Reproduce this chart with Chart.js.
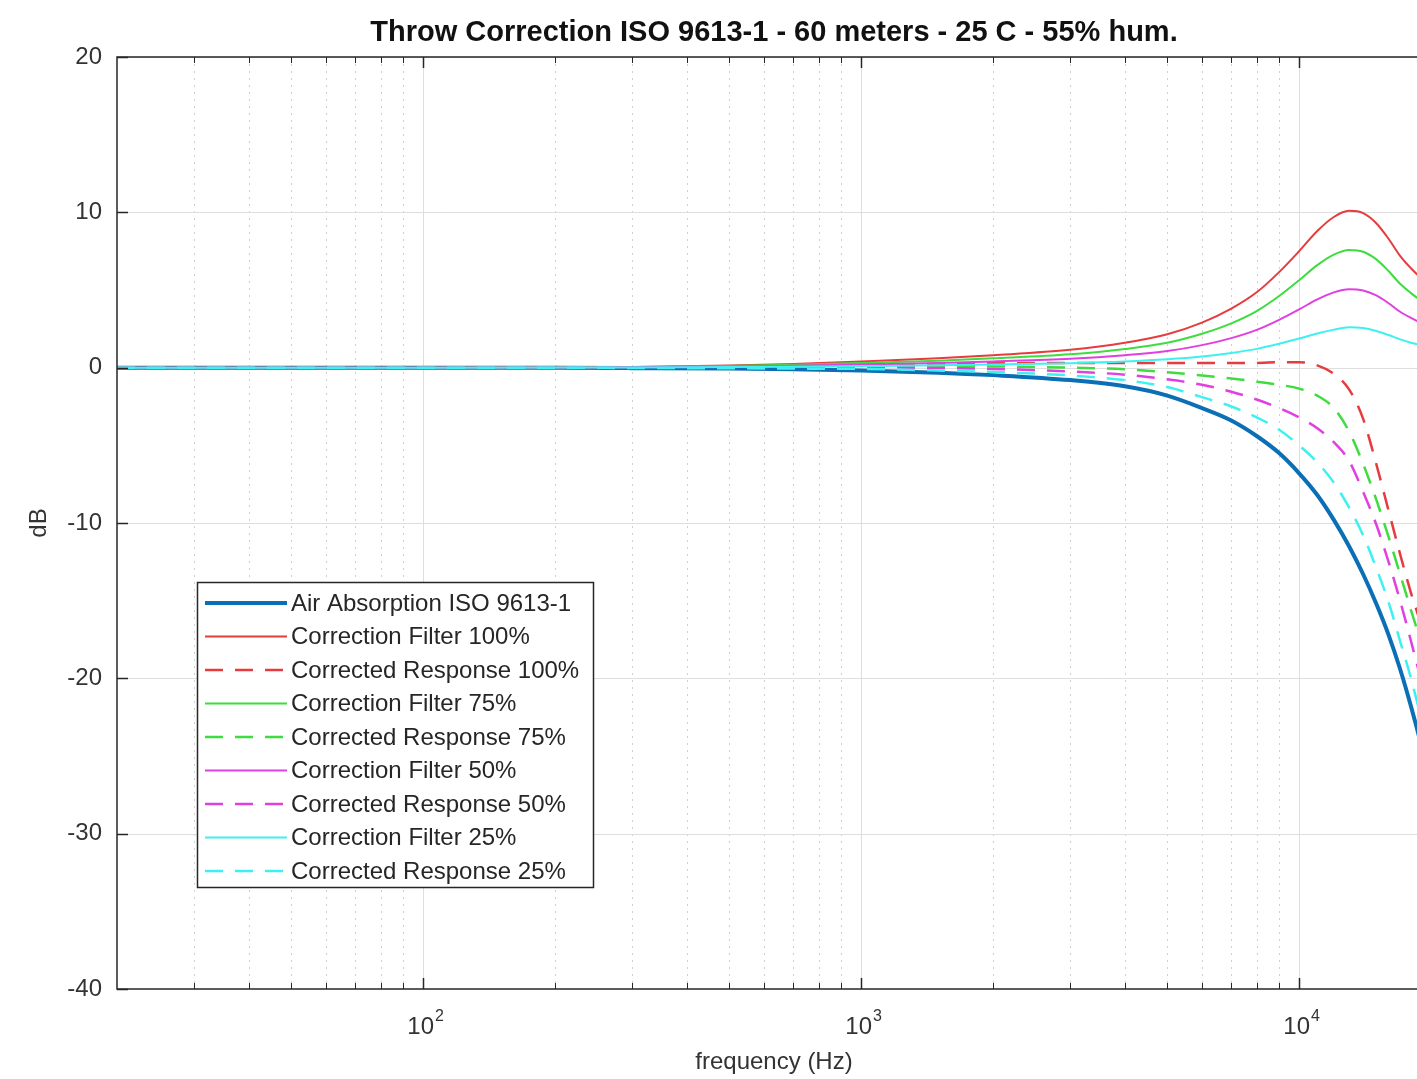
<!DOCTYPE html>
<html>
<head>
<meta charset="utf-8">
<title>Throw Correction ISO 9613-1</title>
<script src="https://cdn.jsdelivr.net/npm/chart.js@4/dist/chart.umd.min.js"></script>
<style>
  html, body { margin: 0; padding: 0; overflow: hidden; background: #fff; }
  canvas { display: block; }
</style>
</head>
<body>
<canvas id="chart" width="1460" height="1079"></canvas>
<script>
const FONT = "'Liberation Sans', Arial, Helvetica, sans-serif";

// Data (dB vs Hz)
const freqs = [20, 50, 100, 200, 300, 500, 700, 1000, 1500, 2000, 3000, 4000, 5000, 6000, 7000, 8000, 9000, 10000, 11000, 12000, 13000, 14000, 15000, 16000, 17000, 18000, 19000, 20000];
const airAbsorption = [0, 0, 0, -0.01, -0.03, -0.06, -0.1, -0.18, -0.32, -0.48, -0.8, -1.2, -1.8, -2.6, -3.4, -4.4, -5.5, -6.8, -8.2, -9.8, -11.5, -13.3, -15.2, -17.2, -19.4, -21.8, -24.3, -26.9];
const filter100 = [0, 0, 0, 0.02, 0.05, 0.14, 0.24, 0.4, 0.6, 0.8, 1.15, 1.6, 2.15, 2.9, 3.8, 4.85, 6.15, 7.5, 8.8, 9.7, 10.1, 9.95, 9.3, 8.3, 7.2, 6.4, 5.75, 5.2];
const response100 = [0, 0, 0, 0.01, 0.02, 0.08, 0.14, 0.2, 0.25, 0.28, 0.3, 0.3, 0.3, 0.3, 0.3, 0.3, 0.35, 0.35, 0.15, -0.4, -1.4, -3.3, -6.2, -9.2, -12.0, -14.5, -16.6, -19.2];
const filter75 = [0, 0, 0, 0.015, 0.04, 0.1, 0.18, 0.3, 0.45, 0.6, 0.86, 1.2, 1.6, 2.18, 2.85, 3.64, 4.61, 5.63, 6.6, 7.28, 7.58, 7.46, 6.97, 6.22, 5.4, 4.8, 4.31, 3.9];
const response75 = [0, 0, 0, 0, 0.01, 0.04, 0.07, 0.1, 0.1, 0.08, 0, -0.1, -0.3, -0.5, -0.7, -0.9, -1.1, -1.35, -1.8, -2.6, -4.1, -6.2, -8.5, -10.9, -13.3, -15.6, -17.8, -20.5];
const filter50 = [0, 0, 0, 0.01, 0.025, 0.07, 0.12, 0.2, 0.3, 0.4, 0.57, 0.8, 1.07, 1.45, 1.9, 2.43, 3.08, 3.75, 4.4, 4.85, 5.05, 4.97, 4.65, 4.15, 3.6, 3.2, 2.87, 2.6];
const response50 = [0, 0, 0, 0, -0.01, 0.01, 0.02, 0.02, -0.02, -0.08, -0.25, -0.45, -0.75, -1.1, -1.55, -2.05, -2.6, -3.2, -3.9, -4.8, -6.0, -8.0, -10.1, -12.5, -15.0, -17.6, -20.2, -23.0];
const filter25 = [0, 0, 0, 0.005, 0.012, 0.035, 0.06, 0.1, 0.15, 0.2, 0.29, 0.4, 0.54, 0.72, 0.95, 1.21, 1.54, 1.88, 2.2, 2.45, 2.6, 2.55, 2.36, 2.1, 1.82, 1.6, 1.44, 1.3];
const response25 = [0, 0, 0, 0, -0.02, -0.04, -0.06, -0.08, -0.18, -0.28, -0.5, -0.8, -1.25, -1.9, -2.5, -3.2, -4.0, -5.0, -6.1, -7.4, -9.0, -10.8, -12.9, -15.1, -17.6, -20.0, -22.6, -25.4];

const seriesLabels = [
  "Air Absorption ISO 9613-1",
  "Correction Filter 100%", "Corrected Response 100%",
  "Correction Filter 75%", "Corrected Response 75%",
  "Correction Filter 50%", "Corrected Response 50%",
  "Correction Filter 25%", "Corrected Response 25%"
];
const seriesValues = [airAbsorption, filter100, response100, filter75, response75, filter50, response50, filter25, response25];
const seriesColors = ["#0b6fb5", "#e63b3f", "#e63b3f", "#3fdc3f", "#3fdc3f", "#e040e0", "#e040e0", "#3ff0f0", "#3ff0f0"];

// Axis ticks
const yTicks = [20, 10, 0, -10, -20, -30, -40];
const decadeTicks = [100, 1000, 10000];
const minorTicks = [30, 40, 50, 60, 70, 80, 90, 200, 300, 400, 500, 600, 700, 800, 900, 2000, 3000, 4000, 5000, 6000, 7000, 8000, 9000];

const DASH = [18, 12];

const datasets = seriesLabels.map((label, i) => {
  const dashed = label.startsWith("Corrected");
  return {
    label: label,
    data: freqs.map((f, k) => ({ x: f, y: seriesValues[i][k] })),
    borderColor: seriesColors[i],
    borderWidth: i === 0 ? 4 : (dashed ? 2.5 : 2),
    borderDash: dashed ? DASH : [],
    pointRadius: 0,
    fill: false,
    cubicInterpolationMode: "monotone",
    order: seriesLabels.length - 1 - i
  };
});

function line(ctx, x1, y1, x2, y2) {
  ctx.beginPath();
  ctx.moveTo(x1, y1);
  ctx.lineTo(x2, y2);
  ctx.stroke();
}

// Grid, frame, labels and legend in MATLAB style
const matlabFrame = {
  id: "matlabFrame",
  beforeDatasetsDraw(chart) {
    const { ctx, chartArea: a, scales: { x, y } } = chart;
    ctx.save();
    ctx.beginPath();
    ctx.rect(a.left, a.top, a.right - a.left, a.bottom - a.top);
    ctx.clip();
    ctx.lineWidth = 1;

    ctx.strokeStyle = "#cfcfcf";
    ctx.setLineDash([2, 5]);
    minorTicks.forEach(f => {
      const px = Math.round(x.getPixelForValue(f)) + 0.5;
      line(ctx, px, a.top, px, a.bottom);
    });

    ctx.setLineDash([]);
    ctx.strokeStyle = "#dedede";
    decadeTicks.forEach(f => {
      const px = Math.round(x.getPixelForValue(f)) + 0.5;
      line(ctx, px, a.top, px, a.bottom);
    });
    yTicks.forEach(v => {
      const py = Math.round(y.getPixelForValue(v)) + 0.5;
      line(ctx, a.left, py, a.right, py);
    });
    ctx.restore();
  },
  afterDatasetsDraw(chart) {
    const { ctx, chartArea: a, scales: { x, y } } = chart;
    ctx.save();

    // box and inward ticks
    ctx.strokeStyle = "#262626";
    ctx.lineWidth = 1.5;
    ctx.strokeRect(a.left, a.top, a.right - a.left, a.bottom - a.top);
    ctx.lineWidth = 1;
    minorTicks.forEach(f => {
      const px = Math.round(x.getPixelForValue(f)) + 0.5;
      line(ctx, px, a.bottom, px, a.bottom - 6);
      line(ctx, px, a.top, px, a.top + 6);
    });
    ctx.lineWidth = 1.5;
    decadeTicks.forEach(f => {
      const px = Math.round(x.getPixelForValue(f)) + 0.5;
      line(ctx, px, a.bottom, px, a.bottom - 11);
      line(ctx, px, a.top, px, a.top + 11);
    });
    yTicks.forEach(v => {
      const py = Math.round(y.getPixelForValue(v)) + 0.5;
      line(ctx, a.left, py, a.left + 11, py);
    });

    // x tick labels 10^n
    ctx.fillStyle = "#333";
    ctx.textBaseline = "alphabetic";
    decadeTicks.forEach(f => {
      const px = x.getPixelForValue(f);
      const exp = String(Math.round(Math.log10(f)));
      ctx.font = "24px " + FONT;
      const w1 = ctx.measureText("10").width;
      ctx.font = "16px " + FONT;
      const w2 = ctx.measureText(exp).width;
      const start = px - (w1 + w2) / 2 + 2;
      ctx.font = "24px " + FONT;
      ctx.textAlign = "left";
      ctx.fillText("10", start, 1034);
      ctx.font = "16px " + FONT;
      ctx.fillText(exp, start + w1 + 1, 1021);
    });

    // axis titles
    ctx.textAlign = "center";
    ctx.textBaseline = "middle";
    ctx.font = "24px " + FONT;
    ctx.fillText("frequency (Hz)", (a.left + a.right) / 2, 1062);
    ctx.save();
    ctx.translate(39, (a.top + a.bottom) / 2);
    ctx.rotate(-Math.PI / 2);
    ctx.fillText("dB", 0, 0);
    ctx.restore();

    // title
    ctx.fillStyle = "#111";
    ctx.font = "bold 29px " + FONT;
    ctx.textBaseline = "alphabetic";
    ctx.fillText("Throw Correction ISO 9613-1 - 60 meters - 25 C - 55% hum.", (a.left + a.right) / 2, 41);

    // legend
    const lx = 197, ly = 582, lw = 396, lh = 305;
    ctx.fillStyle = "#fff";
    ctx.fillRect(lx, ly, lw, lh);
    ctx.strokeStyle = "#262626";
    ctx.lineWidth = 1.5;
    ctx.strokeRect(lx + 0.5, ly + 0.5, lw, lh);
    ctx.font = "24px " + FONT;
    ctx.textAlign = "left";
    ctx.textBaseline = "middle";
    chart.data.datasets.forEach((ds, i) => {
      const ry = 603 + i * 33.5;
      ctx.strokeStyle = ds.borderColor;
      ctx.lineWidth = ds.borderWidth;
      ctx.setLineDash(ds.borderDash);
      line(ctx, 205, ry, 287, ry);
      ctx.setLineDash([]);
      ctx.fillStyle = "#262626";
      ctx.fillText(ds.label, 291, ry + 1);
    });
    ctx.restore();
  }
};

new Chart(document.getElementById("chart"), {
  type: "line",
  data: { datasets: datasets },
  options: {
    responsive: false,
    animation: false,
    devicePixelRatio: 1,
    layout: { padding: { left: 0, top: 57, right: 29, bottom: 0 } },
    plugins: {
      legend: { display: false },
      title: { display: false },
      tooltip: { enabled: false }
    },
    scales: {
      x: {
        type: "logarithmic",
        min: 20,
        max: 20000,
        grid: { display: false },
        border: { display: false },
        ticks: { display: false },
        afterFit: s => { s.height = 90; }
      },
      y: {
        min: -40,
        max: 20,
        grid: { display: false },
        border: { display: false },
        afterBuildTicks: s => { s.ticks = yTicks.map(v => ({ value: v })); },
        ticks: {
          color: "#333",
          padding: 7,
          font: { family: FONT, size: 24 }
        },
        afterFit: s => { s.width = 117; }
      }
    }
  },
  plugins: [matlabFrame]
});
</script>
</body>
</html>
